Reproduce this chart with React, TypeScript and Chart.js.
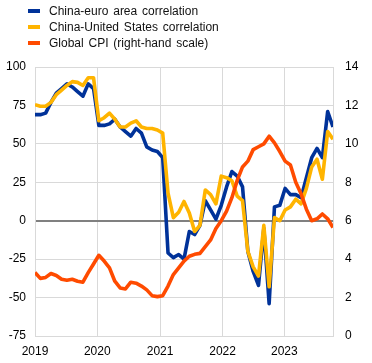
import React, { useEffect, useRef } from "react";
import { Chart, registerables } from "chart.js";

Chart.register(...registerables);

// Monthly observations, January 2019 onwards
const months: string[] = Array.from({ length: 57 }, (_, i) =>
  `${2019 + Math.floor(i / 12)}-${String((i % 12) + 1).padStart(2, "0")}`
);

const chinaEuroCorr = [
  69, 69, 70, 77, 83, 86, 89, 87, 84, 81, 89, 86,
  62, 62, 63, 66, 61, 58, 55, 60, 57, 48, 46, 45,
  41, -21, -24, -22, -25, -7, -9, -3, 13, 7, 1, 10,
  22, 32, 29, 22, -20, -33, -42, -5, -54, 9, 10, 21,
  17, 17, 15, 28, 41, 47, 41, 71, 61,
];

const chinaUsCorr = [
  75.5, 74.5, 74.5, 77, 82, 85, 88, 90.5, 90, 88, 93, 93,
  65, 67, 70, 66, 61, 61, 63.5, 65, 61, 60, 60, 59,
  57, 18, 2, 5.5, 12.5, 5, -7, -3, 20, 17, 11, 29,
  28, 26, 16, 13, -20, -30, -36, -3, -43, 2, 0, 7,
  9, 14, 11, 21, 35, 40, 27, 58, 53,
];

const globalCpi = [
  3.3, 3.0, 3.05, 3.25, 3.15, 2.95, 2.9, 2.95, 2.85, 2.8, 3.3, 3.75,
  4.2, 3.9, 3.55, 2.85, 2.5, 2.45, 2.8, 2.75, 2.6, 2.4, 2.1, 2.05,
  2.1, 2.6, 3.2, 3.55, 3.9, 4.15, 4.25, 4.3, 4.65, 5.0, 5.6, 6.0,
  6.5, 7.2, 8.1, 8.8, 9.1, 9.7, 9.85, 10.0, 10.4, 10.05, 9.6, 9.1,
  8.9, 8.0, 7.4, 6.6, 6.0, 6.1, 6.35, 6.1, 5.65,
];

const yearLabels = ["2019", "2020", "2021", "2022", "2023"];
const yearTickPositions = [0, 11.7, 23.5, 35.25, 46.85];

const seriesNames = [
  "China-euro area correlation",
  "China-United States correlation",
  "Global CPI (right-hand scale)",
];
const seriesColors = ["#003299", "#ffb400", "#ff4b00"];

const FONT = "'Liberation Sans', Arial, Helvetica, sans-serif";
const GRID = "#d9d9d9";

export default function App() {
  const ref = useRef<HTMLCanvasElement | null>(null);

  useEffect(() => {
    if (!ref.current) return;
    const toPts = (arr: number[]) => arr.map((v, i) => ({ x: i, y: v }));
    const lastIndex = months.length - 1;
    const chart = new Chart(ref.current, {
      type: "line",
      data: {
        datasets: [
          {
            label: seriesNames[0],
            data: toPts(chinaEuroCorr),
            borderColor: seriesColors[0],
            backgroundColor: seriesColors[0],
            yAxisID: "y",
            order: 3,
          },
          {
            label: seriesNames[1],
            data: toPts(chinaUsCorr),
            borderColor: seriesColors[1],
            backgroundColor: seriesColors[1],
            yAxisID: "y",
            order: 2,
          },
          {
            label: seriesNames[2],
            data: toPts(globalCpi),
            borderColor: seriesColors[2],
            backgroundColor: seriesColors[2],
            yAxisID: "y1",
            order: 1,
          },
        ],
      },
      options: {
        animation: false,
        responsive: false,
        maintainAspectRatio: false,
        devicePixelRatio: 1,
        events: [],
        layout: { padding: { top: 67, left: 0, right: 0, bottom: 0 } },
        elements: {
          point: { radius: 0 },
          line: { borderWidth: 3.6, tension: 0, borderJoinStyle: "round", borderCapStyle: "butt" },
        },
        plugins: {
          legend: { display: false },
          tooltip: { enabled: false },
        },
        scales: {
          x: {
            type: "linear",
            min: 0,
            max: lastIndex,
            afterBuildTicks: (s: any) => {
              s.ticks = [...yearTickPositions.map((v) => ({ value: v })), { value: lastIndex }];
            },
            afterFit: (s: any) => {
              s.height = 27;
            },
            ticks: {
              autoSkip: false,
              maxRotation: 0,
              padding: 8,
              color: "#000",
              font: { family: FONT, size: 12 },
              callback: (v: any) => {
                const k = yearTickPositions.indexOf(Number(v));
                return k >= 0 ? yearLabels[k] : "";
              },
            },
            grid: { color: GRID, lineWidth: 1, drawTicks: false },
            border: { display: true, color: GRID, width: 1 },
          },
          y: {
            position: "left",
            min: -75,
            max: 100,
            afterFit: (s: any) => {
              s.width = 35;
            },
            ticks: {
              stepSize: 25,
              padding: 9,
              color: "#000",
              font: { family: FONT, size: 12 },
            },
            grid: {
              drawTicks: false,
              color: (c: any) => (c.tick && c.tick.value === 0 ? "#808080" : GRID),
              lineWidth: (c: any) => (c.tick && c.tick.value === 0 ? 2 : 1),
            },
            border: { display: true, color: GRID, width: 1 },
          },
          y1: {
            position: "right",
            min: 0,
            max: 14,
            afterFit: (s: any) => {
              s.width = 39;
            },
            ticks: {
              stepSize: 2,
              padding: 12,
              color: "#000",
              font: { family: FONT, size: 12 },
            },
            grid: { drawOnChartArea: false, drawTicks: false },
            border: { display: true, color: GRID, width: 1 },
          },
        },
      },
    } as any);
    return () => chart.destroy();
  }, []);

  return (
    <div style={{ position: "absolute", left: 0, top: 0, width: 372, height: 363, background: "#fff" }}>
      <canvas ref={ref} width={372} height={363} style={{ display: "block", width: 372, height: 363 }} />
      <div style={{ position: "absolute", left: 0, top: 3, fontFamily: FONT, fontSize: 12, color: "#111" }}>
        {seriesNames.map((name, i) => (
          <div key={name} style={{ position: "relative", height: 16, lineHeight: "16px", paddingLeft: 49, whiteSpace: "nowrap", wordSpacing: 1.5 }}>
            <span
              style={{
                position: "absolute",
                left: 28,
                top: 6,
                width: 12,
                height: 4,
                background: seriesColors[i],
              }}
            />
            {name}
          </div>
        ))}
      </div>
    </div>
  );
}
